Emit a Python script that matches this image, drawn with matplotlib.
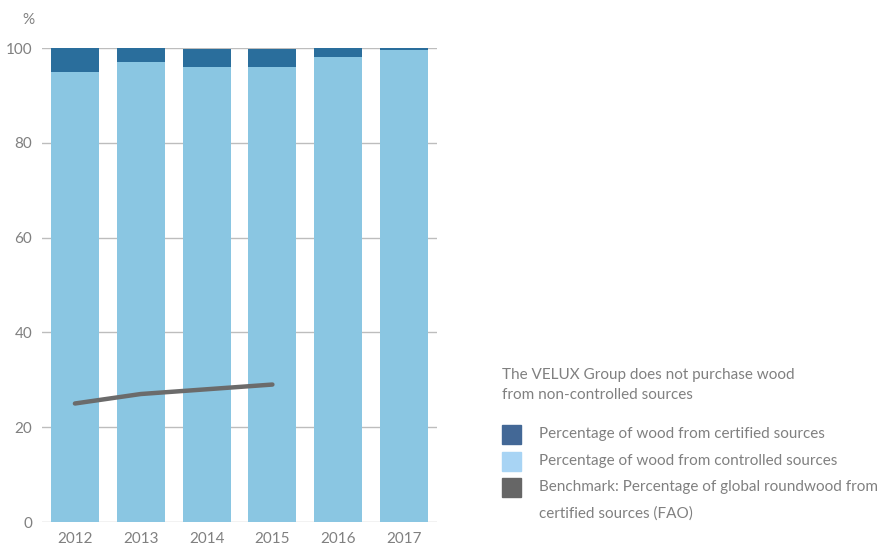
import matplotlib.pyplot as plt
from matplotlib.patches import Rectangle

plt.rcParams['font.family'] = ['Lato', 'DejaVu Sans']

years = ['2012', '2013', '2014', '2015', '2016', '2017']
bottom_part = [95, 97, 96, 96, 98, 99.6]
top_part = [5, 3, 3.7, 3.7, 2, 0.4]
bench_years = [0, 1, 2, 3]
benchmark = [25, 27, 28, 29]

legend_labels = ['Percentage of wood from certified sources',
                 'Percentage of wood from controlled sources',
                 'Benchmark: Percentage of global roundwood from']
legend_colors = ['#436896', '#a8d4f4', '#666666']

txt = '#808080'

fig = plt.figure(figsize=(8.8, 5.44), dpi=100)
ax = fig.add_axes([42/880, 22/544, 395/880, 474/544])

x = range(len(years))
ax.bar(x, bottom_part, width=0.727, color='#8ac6e2', zorder=2)
ax.bar(x, top_part, bottom=bottom_part, width=0.727, color='#2a6e9c', zorder=2)
ax.plot(bench_years, benchmark, color='#6b6b6b', lw=3.2, solid_capstyle='round', zorder=3)

ax.set_xlim(-0.5, 5.5)
ax.set_ylim(0, 100)
ax.set_yticks([0, 20, 40, 60, 80, 100])
ax.set_xticks(list(x))
ax.set_xticklabels(years)
ax.yaxis.grid(True, color='#bdbdbd', lw=1, zorder=0)
ax.set_axisbelow(True)
for s in ax.spines.values():
    s.set_visible(False)
ax.tick_params(length=0, labelsize=11, labelcolor=txt)
ax.tick_params(axis='y', pad=7)
ax.tick_params(axis='x', pad=7)

fig.text(28/880, 1 - 20/544, '%', fontsize=11, color=txt, ha='center', va='center')

# note above the legend
fig.text(502/880, 1 - 375/544, 'The VELUX Group does not purchase wood', fontsize=11, color=txt, va='center')
fig.text(502/880, 1 - 395/544, 'from non-controlled sources', fontsize=11, color=txt, va='center')

rows = [434, 461, 487]
for lab, col, yy in zip(legend_labels, legend_colors, rows):
    fig.patches.append(Rectangle((502/880, 1 - (yy + 9.5)/544), 19/880, 19/544,
                                 transform=fig.transFigure, color=col))
    fig.text(539/880, 1 - yy/544, lab, fontsize=11, color=txt, va='center')
fig.text(539/880, 1 - 514/544, 'certified sources (FAO)', fontsize=11, color=txt, va='center')

fig.savefig('out.png', dpi=100)
